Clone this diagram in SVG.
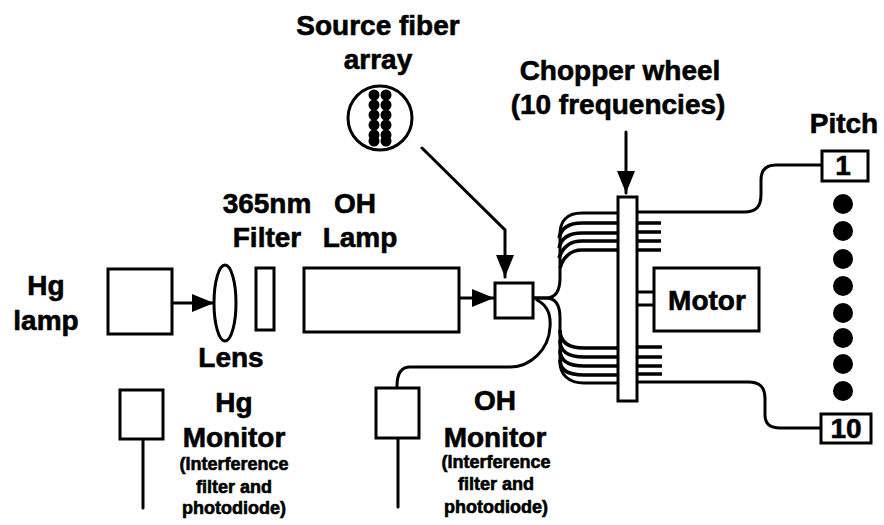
<svg xmlns="http://www.w3.org/2000/svg" width="884" height="525" viewBox="0 0 884 525">
<style>
text{font-family:"Liberation Sans",Arial,sans-serif;font-weight:bold;fill:#000;text-anchor:middle;stroke:#000;stroke-width:.6}
.l{font-size:28px}.s{font-size:18px}
.b{fill:#fff;stroke:#000;stroke-width:3}
.c{fill:none;stroke:#000;stroke-width:3;stroke-linecap:round}
.f{fill:none;stroke:#000;stroke-width:3.6}
</style>
<defs><marker id="a" markerUnits="userSpaceOnUse" markerWidth="24" markerHeight="20" refX="22" refY="9" orient="auto"><path d="M0 0L22 9L0 18Z" fill="#000"/></marker></defs>
<rect width="884" height="525" fill="#fff"/>
<g id="connectors">
<path class="c" d="M422 148L505 230V277" marker-end="url(#a)"/>
<path class="c" d="M626 132V193" marker-end="url(#a)"/>
<path class="c" d="M172 303H214" marker-end="url(#a)"/>
<path class="c" d="M460 298H494" marker-end="url(#a)"/>
<path class="c" d="M534 298H546C556 298 560 290 560 278V234C560 222 566 213 582 213H618"/>
<path class="f" d="M559 238C561 229 568 223 582 223H618M559 248C561 239 568 233 582 233H618M559 258C562 249 568 241 582 241H618M560 268C563 258 570 250 582 250H618"/>
<path class="c" d="M534 298H546C556 298 560 306 560 318V362C560 374 568 383 584 383H618"/>
<path class="f" d="M560 330C560 342 568 348 584 348H618M560 340C560 352 568 357 584 357H618M560 350C560 361 568 366 584 366H618M560 360C560 370 568 375 584 375H618"/>
<path class="c" d="M537 300C547 305 551 315 550 327C549 350 530 367 510 367H410C400 367 397 375 397 386"/>
<path class="c" d="M636 212H744C757 212 761 206 761 194V180C761 170 766 165 776 165H821"/>
<path class="c" d="M638 382H748C760 382 765 387 765 399V415C765 424 770 428 780 428H820"/>
<path class="f" d="M637 223H661M637 232H661M637 241H661M637 250H661M638 347H662M638 357H662M638 366H662M638 374H662"/>
<path class="c" d="M637 292H654M637 305H654"/>
<path class="c" d="M143 439V508M398 439V507"/>
</g>
<g id="source-fiber-array"><circle class="b" cx="380" cy="118" r="32"/>
<g fill="#000"><circle cx="374" cy="95" r="5.5"/><circle cx="374" cy="105" r="5.5"/><circle cx="374" cy="115" r="5.5"/><circle cx="374" cy="125" r="5.5"/><circle cx="374" cy="135" r="5.5"/><circle cx="374" cy="141" r="5.5"/><circle cx="386" cy="95" r="5.5"/><circle cx="386" cy="105" r="5.5"/><circle cx="386" cy="115" r="5.5"/><circle cx="386" cy="125" r="5.5"/><circle cx="386" cy="135" r="5.5"/><circle cx="386" cy="141" r="5.5"/></g>
<text class="l" x="378" y="35">Source fiber</text><text class="l" x="378" y="69">array</text></g>
<g id="chopper-wheel"><rect class="b" x="618" y="197" width="19" height="204"/>
<text class="l" x="620" y="80">Chopper wheel</text><text class="l" x="618" y="114">(10 frequencies)</text></g>
<g id="hg-lamp"><rect class="b" x="108" y="269" width="64" height="65"/><text class="l" x="46" y="295">Hg</text><text class="l" x="46" y="330">lamp</text></g>
<g id="lens"><ellipse class="b" cx="225" cy="303" rx="11" ry="38"/><text class="l" x="231" y="367">Lens</text></g>
<g id="filter"><rect class="b" x="256" y="268" width="18" height="62"/><text class="l" x="267" y="213">365nm</text><text class="l" x="267" y="247">Filter</text></g>
<g id="oh-lamp"><rect class="b" x="304" y="268" width="155" height="64"/><text class="l" x="355" y="213">OH</text><text class="l" x="360" y="247">Lamp</text></g>
<g id="coupler"><rect class="b" x="495" y="283" width="38" height="35"/></g>
<g id="motor"><rect class="b" x="654" y="268" width="105" height="63"/><text class="l" x="707" y="310">Motor</text></g>
<g id="pitch-1"><rect class="b" x="822" y="151" width="46" height="30"/><text class="l" x="843" y="175">1</text><text class="l" x="844" y="133">Pitch</text></g>
<g id="pitch-dots" fill="#000"><circle cx="843" cy="204" r="10"/><circle cx="843" cy="231" r="10"/><circle cx="843" cy="259" r="10"/><circle cx="843" cy="286" r="10"/><circle cx="843" cy="313" r="10"/><circle cx="843" cy="338" r="10"/><circle cx="843" cy="364" r="10"/><circle cx="843" cy="391" r="10"/></g>
<g id="pitch-10"><rect class="b" x="821" y="414" width="50" height="29"/><text class="l" x="846" y="438">10</text></g>
<g id="hg-monitor"><rect class="b" x="120" y="390" width="43" height="49"/>
<text class="l" x="234" y="412">Hg</text><text class="l" x="234" y="447">Monitor</text><text class="s" x="234" y="470">(Interference</text><text class="s" x="234" y="493">filter and</text><text class="s" x="234" y="514">photodiode)</text></g>
<g id="oh-monitor"><rect class="b" x="376" y="388" width="43" height="50"/>
<text class="l" x="495" y="410">OH</text><text class="l" x="495" y="447">Monitor</text><text class="s" x="496" y="468">(Interference</text><text class="s" x="496" y="490">filter and</text><text class="s" x="496" y="513">photodiode)</text></g>
</svg>
